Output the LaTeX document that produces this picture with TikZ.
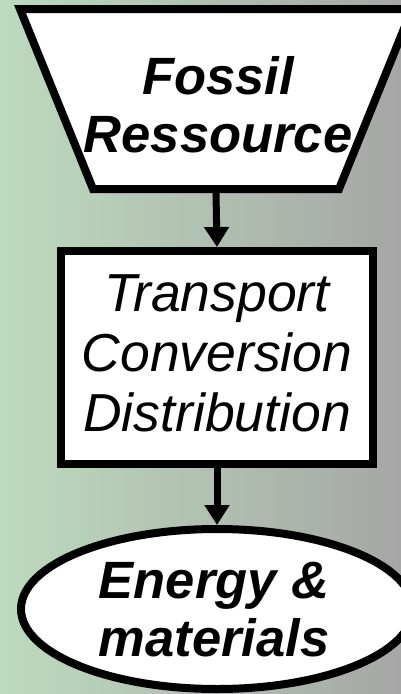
\documentclass[tikz,border=0pt]{standalone}
\usepackage{fontspec}
\setmainfont{Liberation Sans}
\usetikzlibrary{shapes.geometric,arrows.meta}
\definecolor{bgl}{RGB}{188,219,189}
\definecolor{bgr}{RGB}{166,166,166}
\begin{document}
\begin{tikzpicture}[x=1pt,y=-1pt,
  shapebox/.style={draw=black,fill=white,line width=8pt,inner sep=0pt,line join=miter},
  txtbold/.style={align=center,inner sep=0pt,font=\fontsize{52.5}{58}\selectfont\bfseries\itshape},
  txtreg/.style={align=center,inner sep=0pt,font=\fontsize{53.5}{60}\selectfont\itshape},
  flow/.style={line width=7pt,-{Triangle[width=24pt,length=20pt]}}]
\useasboundingbox (0,0) rectangle (401,694);
\clip (0,0) rectangle (401,694);
\shade[left color=bgl,right color=bgr] (0,0) rectangle (401,694);
% shapes
\draw[shapebox] (20,9) -- (412,9) -- (339,189) -- (93,189) -- cycle;
\coordinate (fossil) at (216,193);
\node[shapebox,rectangle,minimum width=312pt,minimum height=213pt] (trans) at (217,357.5) {};
\node[shapebox,ellipse,minimum width=392pt,minimum height=160pt] (energy) at (217,609) {};
% texts
\node[txtbold] (fossilt) at (218,105) {Fossil\\Ressource};
\node[txtreg] (transt) at (217,353) {Transport\\Conversion\\Distribution};
\node[txtbold] (energyt) at (214,610) {Energy \&\\materials};
% connectors
\draw[flow] (fossil) -- (trans.north);
\draw[flow] (trans.south) -- (energy.north);
\end{tikzpicture}
\end{document}
